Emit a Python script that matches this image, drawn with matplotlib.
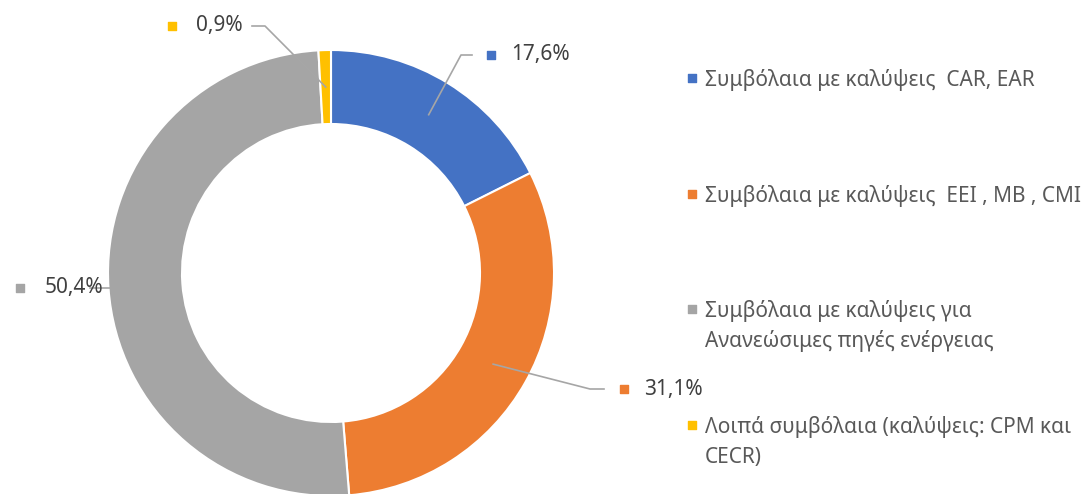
import matplotlib
matplotlib.use("Agg")
import matplotlib.pyplot as plt
import numpy as np

plt.rcParams["font.family"] = ["Noto Sans", "DejaVu Sans"]

# ---------------------------------------------------------------------------
# Data
# ---------------------------------------------------------------------------
categories = [
    "Συμβόλαια με καλύψεις  CAR, EAR",
    "Συμβόλαια με καλύψεις  EEI , MB , CMI",
    "Συμβόλαια με καλύψεις για\nΑνανεώσιμες πηγές ενέργειας",
    "Λοιπά συμβόλαια (καλύψεις: CPM και\nCECR)",
]
shares = [17.6, 31.1, 50.4, 0.9]
colors = ["#4472C4", "#ED7D31", "#A5A5A5", "#FFC000"]

W, H = 1089, 494
cx, cy = 331, H - 273
r_out, r_in = 223, 149
FS = 15

# leader line geometry (pixel coords, top-origin)
label_elbows = [(461, 55), (590, 389), None, (265, 26)]
label_ends = [(472, 55), (604, 389), (110, 288), (252, 26)]
label_text_x = [511, 644, 103, 243]
label_side = ["right", "right", "left", "left"]

fig = plt.figure(figsize=(W / 100, H / 100), dpi=100)
ax = fig.add_axes([0, 0, 1, 1])

wedges, _ = ax.pie(
    shares, colors=colors, startangle=90, counterclock=False,
    center=(cx, cy), radius=r_out,
    wedgeprops=dict(width=r_out - r_in, edgecolor="white", linewidth=1.5),
)
ax.set_xlim(0, W)
ax.set_ylim(0, H)
ax.set_aspect("equal")
ax.axis("off")

text_color = "#404040"
line_color = "#A6A6A6"
r_mid = (r_out + r_in) / 2
fig.canvas.draw()
for i, (w, val) in enumerate(zip(wedges, shares)):
    ang = np.deg2rad((w.theta1 + w.theta2) / 2)
    sx, sy = cx + r_mid * np.cos(ang), cy + r_mid * np.sin(ang)
    lx, ly = label_ends[i]
    if label_elbows[i] is None:
        pts = [(sx, H - ly), (lx - 20, H - ly)]
    else:
        ex, ey = label_elbows[i]
        pts = [(sx, sy), (ex, H - ey), (lx, H - ly)]
    xs, ys = zip(*pts)
    ax.plot(xs, ys, color=line_color, lw=1.2, zorder=3 if i != 2 else 1.5)
    txt = f"{val:.1f}%".replace(".", ",")
    if label_side[i] == "right":
        ax.scatter([label_text_x[i] - 20], [H - ly], marker="s", s=40,
                   color=colors[i], zorder=4)
        ax.text(label_text_x[i], H - ly, txt, ha="left", va="center",
                fontsize=FS, color=text_color, zorder=5)
    else:
        t = ax.text(label_text_x[i], H - ly, txt, ha="right", va="center",
                    fontsize=FS, color=text_color, zorder=5)
        bb = t.get_window_extent(renderer=fig.canvas.get_renderer())
        ax.scatter([bb.x0 - 24], [H - ly], marker="s", s=40, color=colors[i], zorder=4)

# legend (manual, evenly spaced first lines, 30px between wrapped lines)
leg_x = 692
leg_y0 = 78
leg_step = 115.7
line_gap = 30
for i, cat in enumerate(categories):
    yc = leg_y0 + i * leg_step
    ax.scatter([leg_x], [H - yc], marker="s", s=40, color=colors[i])
    for j, part in enumerate(cat.split("\n")):
        ax.text(leg_x + 13, H - (yc + 8 + j * line_gap), part, ha="left",
                va="baseline", fontsize=FS, color="#595959")

fig.savefig("out.png", dpi=100)
